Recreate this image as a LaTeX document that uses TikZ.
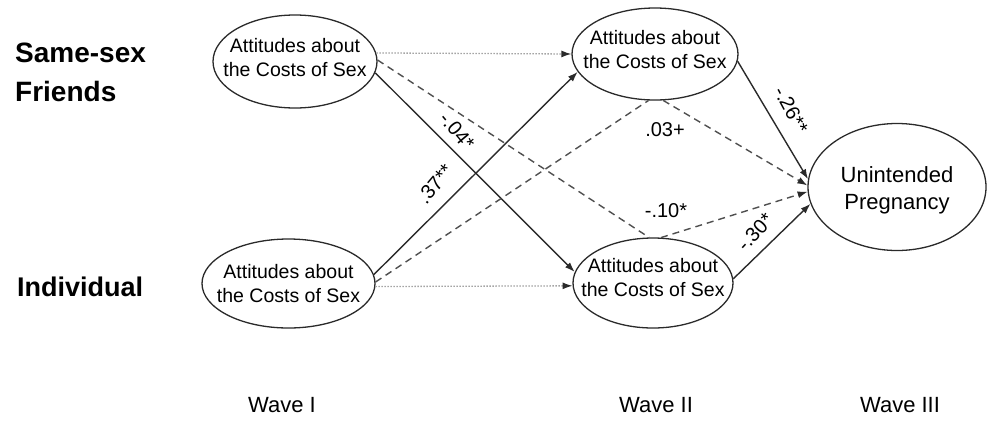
\documentclass[tikz,border=0pt]{standalone}
\usepackage{fontspec}
\setmainfont{Liberation Sans}
\usetikzlibrary{shapes.geometric,arrows.meta}
\definecolor{ink}{HTML}{2A2A2A}
\definecolor{dashgrey}{HTML}{4F4F4F}
\definecolor{dotgrey}{HTML}{A4A4A4}

\begin{document}
\begin{tikzpicture}[x=1pt,y=-1pt,every node/.style={text=black},
  oval/.style={ellipse,draw=ink,line width=1.3pt,inner sep=0pt},
  attlabel/.style={align=center,font=\fontsize{19.5}{24}\selectfont},
  coef/.style={font=\fontsize{20}{24}\selectfont,inner sep=0pt},
  rowlabel/.style={anchor=west,align=left,inner sep=0pt,font=\fontsize{28}{39}\selectfont\bfseries},
  wave/.style={font=\fontsize{22}{26}\selectfont,inner sep=0pt},
  tip/.style={-{Latex[length=10pt,width=7pt,color=ink]}},
  direct/.style={draw=ink,line width=1.4pt,tip},
  indirect/.style={draw=dashgrey,line width=1.4pt,dash pattern=on 7pt off 5pt,tip},
  stable/.style={draw=dotgrey,line width=1.3pt,dash pattern=on 1.5pt off 1.5pt,tip}]
\useasboundingbox (0,0) rectangle (987,424);
% Row labels on the left, wave labels along the bottom.
\node[rowlabel] (friends) at (15,72) {Same-sex\\Friends};
\node[rowlabel,font=\fontsize{27}{32}\selectfont\bfseries] (indiv) at (17,287) {Individual};
\foreach \x/\w/\nm in {282/I/waveA,656/II/waveB,900/III/waveC}{
  \node[wave] (\nm) at (\x,405) {Wave \w};
}
% Attitude ovals: friends on top, individual below; outcome on the right.
\node[oval,minimum width=164pt,minimum height=93pt,label={[attlabel,yshift=4pt]center:{Attitudes about\\the Costs of Sex}}] (fri1) at (295,61.5) {};
\node[oval,minimum width=166pt,minimum height=92pt,label={[attlabel,yshift=4pt]center:{Attitudes about\\the Costs of Sex}}] (fri2) at (655,54) {};
\node[oval,minimum width=173pt,minimum height=89pt,label={[attlabel]center:{Attitudes about\\the Costs of Sex}}] (ind1) at (288.5,283.5) {};
\node[oval,minimum width=160pt,minimum height=90pt,label={[attlabel,yshift=5pt]center:{Attitudes about\\the Costs of Sex}}] (ind2) at (653,283) {};
\node[oval,minimum width=178pt,minimum height=127pt,label={[attlabel,font=\fontsize{22}{27}\selectfont,yshift=-3pt]center:{Unintended\\Pregnancy}}] (preg) at (897,187) {};
% Stability paths (dotted)
\draw[stable] (fri1.6) -- (fri2.180);
\draw[stable] (ind1.-2) -- (ind2.182);
% Cross-lagged and outcome paths (solid)
\draw[direct] (fri1.-8) -- (ind2.172);
\draw[direct] (ind1.6) -- (fri2.193);
\draw[direct] (fri2.-5) -- (preg.175);
\draw[direct] (ind2.3) -- (preg.191);
% Indirect paths (dashed), bent at the wave II ovals
\draw[indirect,-] (fri1.1) -- (ind2.95);
\draw[indirect] (ind2.80) -- (preg.183);
\draw[indirect,-] (ind1.1) -- (fri2.262);
\draw[indirect] (fri2.-80) -- (preg.179);
% Coefficients
\node[coef,rotate=-50] (cA) at (457,131) {-.04*};
\node[coef,rotate=50] (cB) at (435,184) {.37**};
\node[coef,rotate=-62] (cC) at (791,110) {-.26**};
\node[coef,rotate=47] (cD) at (755,232) {-.30*};
\node[coef] (cE) at (665,130) {.03+};
\node[coef] (cF) at (666,211) {-.10*};
\end{tikzpicture}
\end{document}
